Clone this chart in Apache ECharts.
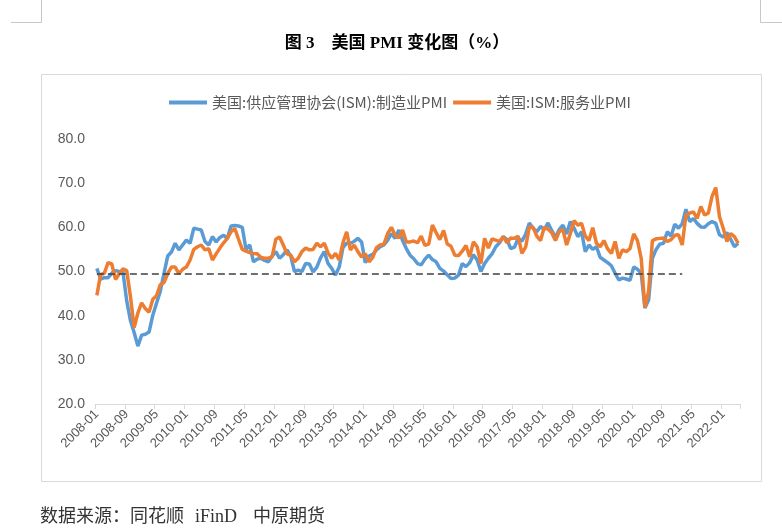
<!DOCTYPE html>
<html><head><meta charset="utf-8">
<script src="https://cdn.jsdelivr.net/npm/echarts@6/dist/echarts.min.js"></script>
<style>html,body{margin:0;padding:0;background:#fff}#c{width:782px;height:531px}</style>
</head><body><div id="c"></div>
<script>
// Categories: monthly, 2008-01 .. 2022-05
const months = [];
for (let y = 2008; y <= 2022; y++) {
  for (let m = 1; m <= 12; m++) {
    if (y === 2022 && m > 5) break;
    months.push(y + '-' + String(m).padStart(2, '0'));
  }
}

const seriesNames = ['美国:供应管理协会(ISM):制造业PMI', '美国:ISM:服务业PMI'];

// ISM manufacturing PMI
const manufacturingPMI = [
  50.7, 48.3, 48.6, 48.6, 49.6, 50.2, 50.0, 49.9, 43.4, 38.9, 36.2, 33.1,
  35.6, 35.8, 36.3, 40.1, 42.8, 45.5, 49.5, 53.5, 54.4, 56.4, 54.9, 56.0,
  57.1, 56.4, 59.8, 59.6, 59.4, 56.8, 56.0, 57.9, 56.7, 57.7, 58.2, 57.5,
  60.3, 60.4, 60.3, 60.0, 55.0, 56.0, 52.2, 52.8, 53.0, 52.5, 52.2, 53.5,
  54.5, 53.0, 53.8, 54.9, 53.5, 50.0, 50.3, 50.0, 51.8, 51.7, 49.9, 51.0,
  53.1, 54.5, 51.8, 50.7, 49.2, 51.0, 55.4, 56.4, 56.4, 56.8, 57.5, 56.7,
  52.0, 53.5, 53.9, 54.9, 55.6, 56.0, 57.1, 58.6, 57.5, 59.4, 57.0, 55.2,
  53.7, 52.9, 51.8, 51.5, 52.8, 53.7, 52.7, 52.2, 50.7, 50.1, 49.2, 48.4,
  48.5, 49.2, 51.8, 51.1, 52.0, 53.8, 52.6, 50.0, 51.8, 53.0, 54.0, 55.6,
  56.5, 57.9, 57.2, 55.2, 55.5, 57.5, 56.9, 58.4, 61.0, 59.8, 59.0, 60.2,
  59.5, 61.0, 59.3, 57.7, 59.5, 60.5, 58.5, 61.3, 59.8, 57.9, 59.0, 54.5,
  56.0, 55.0, 55.6, 53.2, 52.6, 52.0, 51.3, 49.6, 48.1, 48.5, 48.3, 48.0,
  51.0, 50.5, 49.6, 41.7, 43.6, 53.0, 55.0, 56.2, 56.4, 59.0, 58.0, 60.7,
  59.8, 60.8, 64.1, 61.3, 62.0, 60.9, 60.1, 60.0, 60.8, 61.3, 60.9, 58.3,
  57.8, 58.8, 57.3, 55.6, 56.4
];

// ISM services PMI
const servicesPMI = [
  44.6, 49.3, 49.6, 52.0, 51.7, 48.2, 49.5, 50.6, 50.2, 44.4, 37.3, 40.6,
  42.9, 41.6, 40.8, 43.7, 44.5, 47.0, 47.5, 49.5, 51.0, 51.0, 49.5, 50.5,
  51.0, 52.6, 55.0, 55.6, 56.0, 54.9, 55.2, 52.6, 54.0, 55.3, 56.5, 57.5,
  59.0, 59.7, 57.3, 55.0, 54.6, 54.3, 54.1, 54.0, 53.2, 53.0, 53.0, 53.3,
  57.3, 57.8, 56.0, 54.0, 53.7, 52.2, 53.0, 54.5, 55.3, 54.9, 55.0, 56.4,
  55.6, 56.4, 54.2, 53.0, 54.1, 52.6, 56.5, 59.0, 54.9, 56.0, 54.5, 53.3,
  54.0, 52.2, 53.2, 55.4, 56.0, 56.2, 58.6, 60.0, 58.2, 57.6, 59.4, 56.7,
  56.7, 56.9, 56.5, 58.0, 55.9, 56.2, 60.5, 58.8, 57.2, 59.3, 56.2, 55.7,
  53.7, 53.6, 54.6, 55.9, 53.3, 56.7, 55.6, 51.8, 57.5, 55.3, 57.4, 57.1,
  56.8, 57.9, 56.5, 57.6, 57.5, 58.0, 54.1, 55.5, 60.1, 60.0, 58.0, 57.0,
  60.0, 59.6, 58.8, 57.0, 59.0, 59.5, 56.0, 58.6, 61.5, 60.5, 60.9, 58.0,
  57.0, 59.9, 56.4, 55.6, 57.0, 55.1, 54.1, 56.8, 53.0, 54.9, 54.5, 55.2,
  58.5, 57.0, 53.0, 41.8, 45.6, 57.0, 57.4, 57.5, 57.6, 56.8, 57.2, 58.2,
  58.3, 56.0, 62.8, 63.2, 63.5, 62.0, 64.7, 62.8, 63.2, 67.0, 69.0, 62.4,
  59.8, 56.8, 58.6, 57.9, 56.4
];

const yMin = 20, yMax = 80, yStep = 10;
const referenceLevel = 49.5;
const referenceStart = '2008-01';
const referenceEnd = '2021-02';

const chart = echarts.init(document.getElementById('c'), null, { renderer: 'canvas' });
const axisGrey = '#d9d9d9';
const textGrey = '#595959';
const serifFont = '"Liberation Serif", "Noto Sans CJK SC", serif';

chart.setOption({
  animation: false,
  backgroundColor: '#fff',
  graphic: [
    { type: 'rect', shape: { x: 41.5, y: 74.5, width: 720, height: 407 }, style: { fill: 'none', stroke: axisGrey, lineWidth: 1 }, silent: true },
    { type: 'polyline', shape: { points: [[41.5, 0], [41.5, 22.5], [11, 22.5]] }, style: { fill: 'none', stroke: '#c8c8c8', lineWidth: 1 }, silent: true },
    { type: 'polyline', shape: { points: [[760.5, 0], [760.5, 22.5], [782, 22.5]] }, style: { fill: 'none', stroke: '#c8c8c8', lineWidth: 1 }, silent: true },
    { type: 'text', x: 397, y: 44, style: { text: '图 3    美国 PMI 变化图（%）', fill: '#000', font: 'bold 17px ' + serifFont, textAlign: 'center', textVerticalAlign: 'middle' }, silent: true },
    { type: 'text', x: 40, y: 517, style: { text: '数据来源：同花顺', fill: '#333', font: '18px ' + serifFont, textAlign: 'left', textVerticalAlign: 'middle' }, silent: true },
    { type: 'text', x: 195, y: 517, style: { text: 'iFinD', fill: '#333', font: '18px ' + serifFont, textAlign: 'left', textVerticalAlign: 'middle' }, silent: true },
    { type: 'text', x: 253, y: 517, style: { text: '中原期货', fill: '#333', font: '18px ' + serifFont, textAlign: 'left', textVerticalAlign: 'middle' }, silent: true }
  ],
  legend: {
    top: 90,
    left: 164,
    icon: 'rect',
    itemWidth: 38,
    itemHeight: 4,
    itemGap: 6,
    textStyle: { color: textGrey, fontSize: 15, fontFamily: '"Noto Sans CJK SC", sans-serif' },
    data: seriesNames
  },
  grid: { left: 95, right: 42, top: 139, bottom: 127 },
  xAxis: {
    type: 'category',
    data: months,
    boundaryGap: true,
    axisLine: { lineStyle: { color: axisGrey, width: 1 } },
    axisTick: { show: true, interval: 7, length: 5, lineStyle: { color: axisGrey } },
    axisLabel: { interval: 7, rotate: 45, color: textGrey, fontSize: 13, fontFamily: '"Liberation Sans", Arial, sans-serif', margin: 8 },
    splitLine: { show: false }
  },
  yAxis: {
    type: 'value',
    min: yMin, max: yMax, interval: yStep,
    axisLine: { show: false },
    axisTick: { show: false },
    splitLine: { show: false },
    axisLabel: { color: textGrey, fontSize: 14, fontFamily: '"Liberation Sans", Arial, sans-serif', margin: 10, formatter: v => v.toFixed(1) }
  },
  series: [
    {
      name: seriesNames[0], type: 'line', data: manufacturingPMI,
      showSymbol: false, symbol: 'none',
      lineStyle: { color: '#5B9BD5', width: 3.5 }, itemStyle: { color: '#5B9BD5' }
    },
    {
      name: seriesNames[1], type: 'line', data: servicesPMI,
      showSymbol: false, symbol: 'none',
      lineStyle: { color: '#ED7D31', width: 3.5 }, itemStyle: { color: '#ED7D31' },
      markLine: {
        silent: true, symbol: ['none', 'none'],
        label: { show: false },
        lineStyle: { color: '#404040', width: 1.5, type: [7, 4] },
        data: [[{ coord: [referenceStart, referenceLevel] }, { coord: [referenceEnd, referenceLevel] }]]
      }
    }
  ]
});
</script>
</body></html>
